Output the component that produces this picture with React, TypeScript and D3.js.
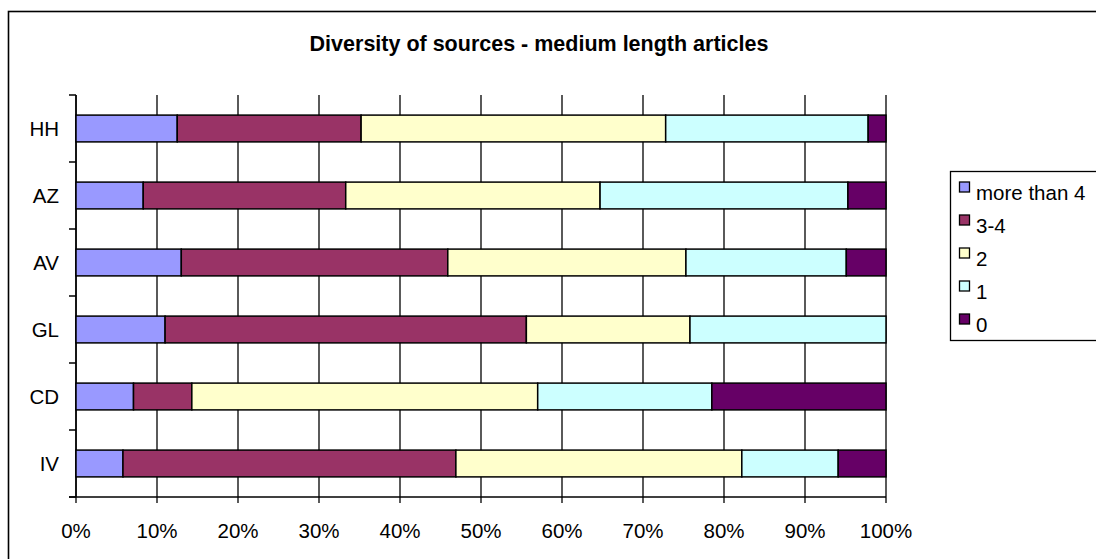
import React from "react";
import * as d3 from "d3";

const categories = ["HH", "AZ", "AV", "GL", "CD", "IV"];
const seriesNames = ["more than 4", "3-4", "2", "1", "0"];
const moreThan4 = [12.5, 8.3, 13.0, 11.0, 7.1, 5.8];
const threeFour = [22.7, 25.0, 32.9, 44.6, 7.2, 41.1];
const two = [37.6, 31.4, 29.4, 20.2, 42.7, 35.3];
const one = [25.0, 30.6, 19.8, 24.2, 21.5, 11.9];
const zero = [2.2, 4.7, 4.9, 0, 21.5, 5.9];
const colors = ["#9999FF", "#993366", "#FFFFCC", "#CCFFFF", "#660066"];
const xTicks = [0, 0.1, 0.2, 0.3, 0.4, 0.5, 0.6, 0.7, 0.8, 0.9, 1.0];
const title = "Diversity of sources - medium length articles";

const FONT = "'Liberation Sans', Arial, sans-serif";

export default function App() {
  const W = 1096, H = 559;
  const x0 = 76, x1 = 886, yTop = 95, yBot = 497;
  const x = d3.scaleLinear().domain([0, 1]).range([x0, x1]);
  const y = d3.scaleBand<string>().domain(categories).range([yTop, yBot]).paddingInner(0.6).paddingOuter(0.3);
  const step = y.step();

  const rows = categories.map((c, i) => {
    const vals = [moreThan4[i], threeFour[i], two[i], one[i], zero[i]];
    const tot = d3.sum(vals);
    const r: any = { cat: c };
    seriesNames.forEach((s, j) => (r[s] = vals[j] / tot));
    return r;
  });
  const stacked = d3.stack<any>().keys(seriesNames)(rows);

  const catTicks = d3.range(categories.length + 1).map((i) => yTop + i * step);
  const fs = 20.5;

  return (
    <svg width={W} height={H} style={{ position: "absolute", left: 0, top: 0, background: "#fff" }} fontFamily={FONT}>
      <rect x={0} y={0} width={W} height={H} fill="#fff" />
      <rect x={8.5} y={11.5} width={W + 20} height={H + 20} fill="none" stroke="#000" strokeWidth={1.6} />
      <text x={539} y={51} textAnchor="middle" fontSize={21.5} fontWeight="bold" fill="#000">{title}</text>

      {/* gridlines */}
      {xTicks.map((t, i) => (
        <line key={"g" + i} x1={x(t)} x2={x(t)} y1={yTop} y2={yBot + 6} stroke="#000" strokeWidth={1.3} />
      ))}
      {/* category axis */}
      <line x1={x0} x2={x0} y1={yTop} y2={yBot} stroke="#000" strokeWidth={1.5} />
      {catTicks.map((t, i) => (
        <line key={"ct" + i} x1={x0 - 7} x2={x0} y1={t} y2={t} stroke="#000" strokeWidth={1.5} />
      ))}
      <line x1={x0 - 7} x2={x1} y1={yBot} y2={yBot} stroke="#000" strokeWidth={1.5} />

      {/* bars */}
      {stacked.map((layer, si) => (
        <g key={"s" + si}>
          {layer.map((d, ci) =>
            d[1] - d[0] > 0 ? (
              <rect
                key={ci}
                x={x(d[0])}
                y={y(categories[ci])!}
                width={x(d[1]) - x(d[0])}
                height={y.bandwidth()}
                fill={colors[si]}
                stroke="#000"
                strokeWidth={1.5}
              />
            ) : null
          )}
        </g>
      ))}

      {/* category labels */}
      {categories.map((c) => (
        <text key={c} x={59} y={y(c)! + y.bandwidth() / 2 + 7.5} textAnchor="end" fontSize={fs} fill="#000">{c}</text>
      ))}
      {/* x tick labels */}
      {xTicks.map((t, i) => (
        <text key={"xl" + i} x={x(t)} y={538} textAnchor="middle" fontSize={fs} fill="#000">{d3.format(".0%")(t)}</text>
      ))}

      {/* legend */}
      <rect x={950.5} y={171.5} width={200} height={169} fill="#fff" stroke="#000" strokeWidth={1.3} />
      {seriesNames.map((s, i) => (
        <g key={"l" + i}>
          <rect x={959.5} y={182 + i * 33} width={10} height={10} fill={colors[i]} stroke="#000" strokeWidth={1.3} />
          <text x={976} y={199.5 + i * 33} fontSize={fs} fill="#000">{s}</text>
        </g>
      ))}
    </svg>
  );
}
